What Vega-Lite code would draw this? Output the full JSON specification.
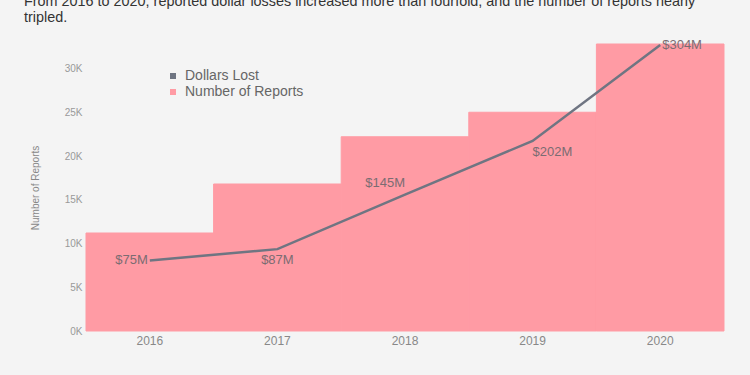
{
  "$schema": "https://vega.github.io/schema/vega-lite/v6.json",
  "autosize": "none",
  "width": 638,
  "height": 287,
  "padding": {"left": 86, "top": 44, "right": 26, "bottom": 44},
  "background": "#f4f4f4",
  "config": {
    "font": "Liberation Sans",
    "view": {"stroke": null}
  },
  "title": {
    "text": ["From 2016 to 2020, reported dollar losses increased more than fourfold, and the number of reports nearly", "tripled."],
    "anchor": "start",
    "frame": "group",
    "dx": -62,
    "fontSize": 14.4,
    "fontWeight": "normal",
    "color": "#333333",
    "lineHeight": 16,
    "offset": 14
  },
  "data": {
    "values": [
      {"year": "2016", "reports": 11200, "dollars": 75, "label": "$75M"},
      {"year": "2017", "reports": 16800, "dollars": 87, "label": "$87M"},
      {"year": "2018", "reports": 22200, "dollars": 145, "label": "$145M"},
      {"year": "2019", "reports": 25000, "dollars": 202, "label": "$202M"},
      {"year": "2020", "reports": 32800, "dollars": 304, "label": "$304M"}
    ]
  },
  "encoding": {
    "x": {
      "field": "year",
      "type": "ordinal",
      "scale": {"paddingInner": 0, "paddingOuter": 0},
      "axis": {
        "title": null,
        "labelAngle": 0,
        "ticks": false,
        "domain": false,
        "labelColor": "#888888",
        "labelFontSize": 12,
        "labelPadding": 4
      }
    }
  },
  "layer": [
    {
      "mark": {"type": "bar", "stroke": "#ff9ba4", "strokeWidth": 1},
      "encoding": {
        "y": {
          "field": "reports",
          "type": "quantitative",
          "scale": {"domain": [0, 32800], "nice": false},
          "axis": {
            "values": [0, 5000, 10000, 15000, 20000, 25000, 30000],
            "labelExpr": "(datum.value / 1000) + 'K'",
            "title": "Number of Reports",
            "titleFontSize": 10,
            "titleFontWeight": "normal",
            "titleColor": "#888888",
            "titlePadding": 24,
            "labelColor": "#999999",
            "labelFontSize": 10,
            "labelPadding": 4,
            "grid": false,
            "ticks": false,
            "domain": false
          }
        },
        "color": {
          "datum": "Number of Reports",
          "scale": {"domain": ["Dollars Lost", "Number of Reports"], "range": ["#6f7582", "#ff9ba4"]},
          "legend": {
            "title": null,
            "orient": "none",
            "legendX": 80,
            "legendY": 25,
            "symbolType": "square",
            "symbolSize": 36,
            "symbolStrokeWidth": 0,
            "labelFontSize": 14,
            "labelColor": "#666666",
            "labelOffset": 5,
            "rowPadding": 2
          }
        }
      }
    },
    {
      "mark": {"type": "line", "color": "#6f7582", "strokeWidth": 2.5},
      "encoding": {
        "y": {"field": "dollars", "type": "quantitative", "scale": {"domain": [0, 305], "nice": false}, "axis": null}
      }
    },
    {
      "transform": [{"filter": "datum.year == '2016'"}],
      "mark": {"type": "text", "align": "right", "baseline": "middle", "dx": -2, "fontSize": 13, "color": "#7b6c72"},
      "encoding": {
        "y": {"field": "dollars", "type": "quantitative", "scale": {"domain": [0, 305], "nice": false}, "axis": null},
        "text": {"field": "label"}
      }
    },
    {
      "transform": [{"filter": "datum.year == '2017'"}],
      "mark": {"type": "text", "align": "center", "baseline": "middle", "dy": 11, "fontSize": 13, "color": "#7b6c72"},
      "encoding": {
        "y": {"field": "dollars", "type": "quantitative", "scale": {"domain": [0, 305], "nice": false}, "axis": null},
        "text": {"field": "label"}
      }
    },
    {
      "transform": [{"filter": "datum.year == '2018'"}],
      "mark": {"type": "text", "align": "right", "baseline": "middle", "dy": -12, "fontSize": 13, "color": "#7b6c72"},
      "encoding": {
        "y": {"field": "dollars", "type": "quantitative", "scale": {"domain": [0, 305], "nice": false}, "axis": null},
        "text": {"field": "label"}
      }
    },
    {
      "transform": [{"filter": "datum.year == '2019'"}],
      "mark": {"type": "text", "align": "left", "baseline": "middle", "dy": 11, "fontSize": 13, "color": "#7b6c72"},
      "encoding": {
        "y": {"field": "dollars", "type": "quantitative", "scale": {"domain": [0, 305], "nice": false}, "axis": null},
        "text": {"field": "label"}
      }
    },
    {
      "transform": [{"filter": "datum.year == '2020'"}],
      "mark": {"type": "text", "align": "left", "baseline": "middle", "dx": 2, "fontSize": 13, "color": "#7b6c72"},
      "encoding": {
        "y": {"field": "dollars", "type": "quantitative", "scale": {"domain": [0, 305], "nice": false}, "axis": null},
        "text": {"field": "label"}
      }
    }
  ],
  "resolve": {"scale": {"y": "independent"}}
}
